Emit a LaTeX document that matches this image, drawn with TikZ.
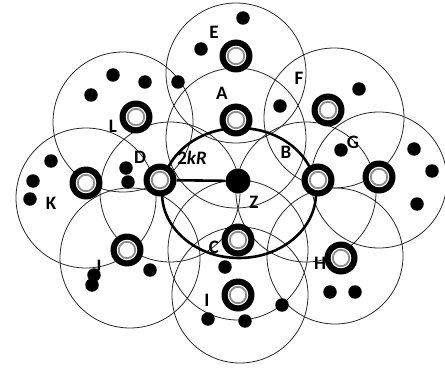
\documentclass[tikz,border=0pt]{standalone}
\usepackage{fontspec}
\setmainfont{Carlito}
\begin{document}
\begin{tikzpicture}[x=1pt,y=-1pt,
  zone/.style={draw=black!85, line width=0.8pt},
  hop/.style={draw=black, line width=2.6pt},
  dot/.style={circle, fill=black, inner sep=0pt, minimum size=13.5pt},
  ring/.style={circle, minimum size=33pt, inner sep=0pt, fill=black,
    path picture={\fill[white] (path picture bounding box.center) circle (10.3pt);
      \draw[black!45, line width=1.8pt] (path picture bounding box.center) circle (8.2pt);}},
  head/.style={circle, fill=black, inner sep=0pt, minimum size=25pt},
  lbl/.style={font=\fontsize{19}{19}\selectfont\bfseries, inner sep=0pt}]
\useasboundingbox (0,0) rectangle (445,369);
% coverage circles
\draw[zone] (236,73) circle[radius=70pt];
\draw[zone] (236,138) circle[radius=70pt];
\draw[zone] (334,118) circle[radius=70pt];
\draw[zone] (379,180) circle[radius=68pt];
\draw[zone] (123,122) circle[radius=70pt];
\draw[zone] (86,198) circle[radius=70pt];
\draw[zone] (170,192) circle[radius=70pt];
\draw[zone] (306,192) circle[radius=70pt];
\draw[zone] (130,258) circle[radius=70pt];
\draw[zone] (335,256) circle[radius=68pt];
\draw[zone] (240,295) circle[radius=68pt];
\draw[zone] (238,250) circle[radius=70pt];
% 2kR boundary
\draw[hop] (239,193) ellipse[x radius=77pt, y radius=65pt];
% ordinary nodes
\foreach \i/\p in {1/{(243,18)},2/{(201,49)},3/{(113,75)},4/{(145,82)},5/{(91,95)},
  6/{(178,82)},7/{(280,106)},8/{(359,89)},9/{(341,150)},10/{(414,149)},
  11/{(432,171)},12/{(417,204)},13/{(330,292)},14/{(355,292)},15/{(282,305)},
  16/{(245,321)},17/{(208,319)},18/{(225,267)},19/{(150,270)},20/{(92,285)},
  21/{(94,275)},22/{(51,161)},23/{(33,181)},24/{(30,199)},25/{(126,168)},26/{(128,182)}}
  \node[dot] (d\i) at \p {};
% cluster heads
\node[ring] (E) at (236,56) {};
\node[ring] (A) at (236,120) {};
\node[ring] (F) at (328,110) {};
\node[ring] (L) at (136,117) {};
\node[ring] (D) at (160,180) {};
\node[ring] (K) at (86,183) {};
\node[ring] (B) at (318,180) {};
\node[ring] (G) at (379,177) {};
\node[ring] (C) at (238,240) {};
\node[ring] (J) at (127,250) {};
\node[ring] (H) at (341,258) {};
\node[ring] (I) at (238,295) {};
\node[head] (Z) at (238,181) {};
\draw[hop] (D) -- (Z);
% labels
\node[lbl] (tE) at (214,32) {E};
\node[lbl] (tA) at (222,93) {A};
\node[lbl] (tF) at (299,78) {F};
\node[lbl] (tL) at (113,126) {L};
\node[lbl] (tD) at (140,157) {D};
\node[lbl] (tR) at (192,158) {2\textit{kR}};
\node[lbl] (tK) at (51,203) {K};
\node[lbl] (tZ) at (254,202) {Z};
\node[lbl] (tB) at (286,152) {B};
\node[lbl] (tG) at (353,142) {G};
\node[lbl] (tC) at (214,247) {C};
\node[lbl] (tJ) at (98,266) {J};
\node[lbl] (tH) at (320,263) {H};
\node[lbl] (tI) at (207,300) {I};
\end{tikzpicture}
\end{document}
